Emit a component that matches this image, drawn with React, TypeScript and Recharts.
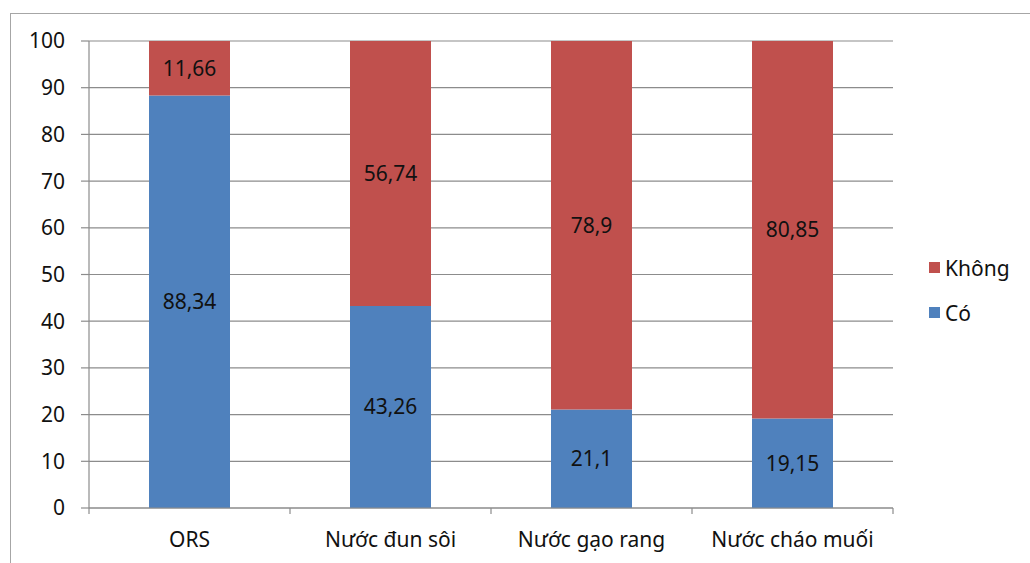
import { BarChart, Bar, XAxis, YAxis, CartesianGrid, LabelList } from "recharts";

// Tỷ lệ sử dụng các loại dịch bù nước (%)
const categories = ["ORS", "Nước đun sôi", "Nước gạo rang", "Nước cháo muối"];
const coValues = [88.34, 43.26, 21.1, 19.15];
const khongValues = [11.66, 56.74, 78.9, 80.85];
const yTicks = [0, 10, 20, 30, 40, 50, 60, 70, 80, 90, 100];

const data = categories.map((name, i) => ({
  name,
  co: coValues[i],
  khong: khongValues[i],
}));

const FONT = "'Noto Sans', 'Open Sans', sans-serif";
const RED = "#C0504D";
const BLUE = "#4F81BD";
const AXIS = "#8c8c8c";

const legendItems = [
  { label: "Không", color: RED },
  { label: "Có", color: BLUE },
];

const fmt = (v: any) => (typeof v === "number" ? String(v).replace(".", ",") : v);

// category label + the little boundary ticks between categories (Excel style)
const CategoryTick = (props: any) => {
  const { x, y, payload } = props;
  const half = payload?.offset ?? 0;
  return (
    <g>
      {payload.index === 0 && (
        <line x1={x - half} x2={x - half} y1={y} y2={y + 6} stroke={AXIS} strokeWidth={1.2} />
      )}
      <line x1={x + half} x2={x + half} y1={y} y2={y + 6} stroke={AXIS} strokeWidth={1.2} />
      <text x={x} y={y + 24} dy="0.71em" textAnchor="middle" fontFamily={FONT} fontSize={21} fill="#111">
        {payload.value}
      </text>
    </g>
  );
};

export default function App() {
  return (
    <div style={{ position: "absolute", left: 0, top: 0, width: 1030, height: 563, background: "#fff", overflow: "hidden" }}>
      <div
        style={{
          position: "absolute",
          left: 10,
          top: 13,
          width: 1040,
          height: 580,
          border: "1.5px solid #a6a6a6",
        }}
      />
      <div style={{ position: "absolute", left: 0, top: 0 }}>
        <BarChart
          width={1030}
          height={563}
          data={data}
          margin={{ top: 41, right: 137, left: 0, bottom: 0 }}
          barCategoryGap={60}
        >
          <CartesianGrid horizontal vertical={false} stroke={AXIS} strokeWidth={1.2} />
          <XAxis
            dataKey="name"
            height={55}
            tickLine={false}
            tickSize={0}
            tickMargin={0}
            axisLine={{ stroke: AXIS, strokeWidth: 1.2 }}
            tick={<CategoryTick />}
            interval={0}
          />
          <YAxis
            width={89}
            domain={[0, 100]}
            ticks={yTicks}
            interval={0}
            tickSize={8}
            axisLine={{ stroke: AXIS, strokeWidth: 1.2 }}
            tickLine={{ stroke: AXIS, strokeWidth: 1.2 }}
            tick={{ fontFamily: FONT, fontSize: 21, fill: "#111" }}
            tickMargin={16}
          />
          <Bar dataKey="co" name="Có" stackId="s" fill={BLUE} isAnimationActive={false}>
            <LabelList dataKey="co" position="center" formatter={fmt} style={{ fontFamily: FONT, fontSize: 21, fill: "#111" }} />
          </Bar>
          <Bar dataKey="khong" name="Không" stackId="s" fill={RED} isAnimationActive={false}>
            <LabelList dataKey="khong" position="center" formatter={fmt} style={{ fontFamily: FONT, fontSize: 21, fill: "#111" }} />
          </Bar>
        </BarChart>
      </div>
      <div style={{ position: "absolute", left: 929, top: 245, fontFamily: FONT, fontSize: 21, color: "#111" }}>
        {legendItems.map((it) => (
          <div key={it.label} style={{ display: "flex", alignItems: "center", height: 45 }}>
            <span style={{ width: 11, height: 11, background: it.color, marginRight: 5, display: "inline-block" }} />
            {it.label}
          </div>
        ))}
      </div>
    </div>
  );
}
